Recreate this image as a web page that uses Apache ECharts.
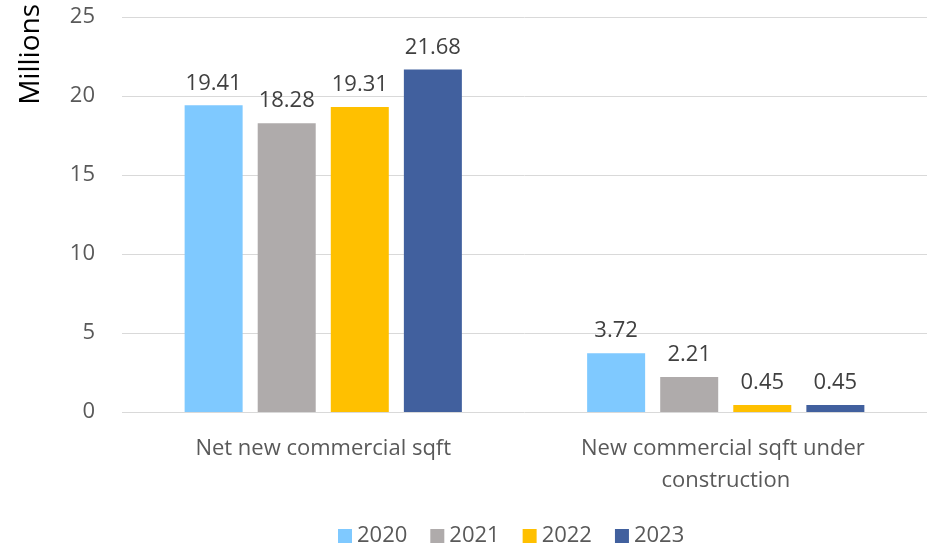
<!DOCTYPE html>
<html>
<head>
<meta charset="utf-8">
<script src="https://cdn.jsdelivr.net/npm/echarts@6/dist/echarts.min.js"></script>
<style>html,body{margin:0;padding:0;background:#fff}#c{width:930px;height:546px}</style>
</head>
<body>
<div id="c"></div>
<script>
const categories = ["Net new commercial sqft", "New commercial sqft under construction"];
const years = ["2020", "2021", "2022", "2023"];
const values2020 = [19.41, 3.72];
const values2021 = [18.28, 2.21];
const values2022 = [19.31, 0.45];
const values2023 = [21.68, 0.45];
const yTicks = [0, 5, 10, 15, 20, 25];
const colors = ["#7FC9FF", "#AFABAB", "#FFC000", "#41609E"];

const font = "'Open Sans', 'Noto Sans', sans-serif";
const seriesData = [values2020, values2021, values2022, values2023];
const chart = echarts.init(document.getElementById('c'));
chart.setOption({
  animation: false,
  textStyle: { fontFamily: font },
  color: colors,
  grid: { left: 122, right: 3, top: 17, bottom: 134 },
  legend: {
    bottom: -6, left: 333,
    itemWidth: 14, itemHeight: 14, itemGap: 23,
    icon: 'rect',
    textStyle: { fontSize: 22, color: '#595959', fontFamily: font },
    data: years
  },
  graphic: [{
    type: 'text', left: 17, top: 4, rotation: Math.PI / 2,
    style: { text: 'Millions', fontSize: 28, fill: '#000', fontFamily: font }
  }],
  xAxis: {
    type: 'category', data: categories,
    axisLine: { show: false }, axisTick: { show: false },
    axisLabel: { interval: 0, fontSize: 22, color: '#595959', margin: 21, lineHeight: 32, width: 320, overflow: 'break', fontFamily: font }
  },
  yAxis: {
    type: 'value', min: yTicks[0], max: yTicks[yTicks.length - 1], interval: 5,
    axisLine: { show: false }, axisTick: { show: false },
    splitLine: { lineStyle: { color: '#D9D9D9', width: 1 } },
    axisLabel: { fontSize: 22, color: '#595959', margin: 27, fontFamily: font }
  },
  series: years.map((y, i) => ({
    name: y, type: 'bar', data: seriesData[i],
    barWidth: 58, barGap: '26%',
    itemStyle: { color: colors[i] },
    label: { show: true, position: 'top', distance: 11, fontSize: 22, color: '#404040', fontFamily: font, formatter: p => p.value.toFixed(2) }
  }))
});
</script>
</body>
</html>
